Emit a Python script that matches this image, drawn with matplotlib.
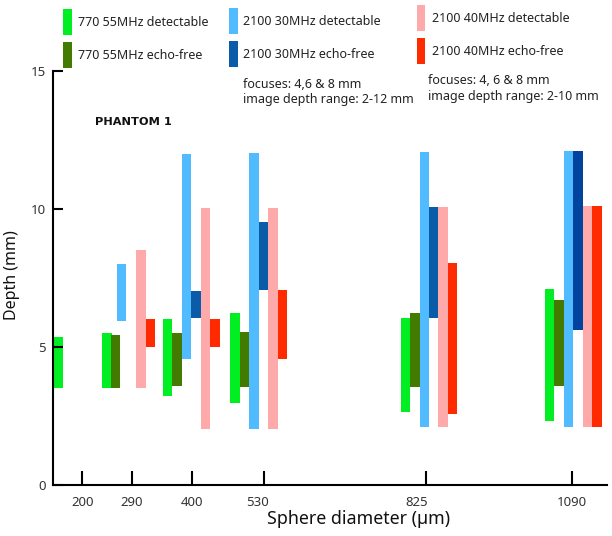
import matplotlib
matplotlib.use("Agg")
import matplotlib.pyplot as plt
from matplotlib.patches import Rectangle
from matplotlib.transforms import ScaledTranslation

plt.rcParams['font.family'] = ['Noto Sans', 'DejaVu Sans']

# ---------------- data ----------------
diameters = [200, 290, 400, 530, 825, 1090]
tick_labels = ['200', '290', '400', '530', '825', '1090']

series_names = ['770 55MHz detectable', '770 55MHz echo-free',
                '2100 30MHz detectable', '2100 30MHz echo-free',
                '2100 40MHz detectable', '2100 40MHz echo-free']

# depth ranges (mm) per diameter; None = no bar
g770_det_low = [3.48, 3.48, 3.20, 2.94, 2.64, 2.30]
g770_det_high = [5.33, 5.50, 5.99, 6.20, 6.04, 7.08]
g770_echo_low = [None, 3.48, 3.58, 3.52, 3.54, 3.57]
g770_echo_high = [None, 5.42, 5.50, 5.51, 6.23, 6.68]
b30_det_low = [None, 5.94, 4.53, 2.00, 2.07, 2.07]
b30_det_high = [None, 7.98, 11.99, 12.00, 12.03, 12.07]
b30_echo_low = [None, None, 6.02, 7.04, 6.05, 5.59]
b30_echo_high = [None, None, 7.02, 9.52, 10.06, 12.07]
r40_det_low = [None, 3.48, 2.01, 2.00, 2.07, 2.07]
r40_det_high = [None, 8.49, 10.02, 10.02, 10.06, 10.10]
r40_echo_low = [None, 5.00, 5.00, 4.53, 2.55, 2.10]
r40_echo_high = [None, 5.99, 5.99, 7.04, 8.04, 10.10]

lows = [g770_det_low, g770_echo_low, b30_det_low, b30_echo_low, r40_det_low, r40_echo_low]
highs = [g770_det_high, g770_echo_high, b30_det_high, b30_echo_high, r40_det_high, r40_echo_high]

# ---------------- style / layout ----------------
colors = ['#00EE22', '#437A00', '#50BCFF', '#0A5CA8', '#FFAAAA', '#FF2A00']
color_override = {(3, 5): '#0044A0'}
group_center = [199.2, 287.7, 398.1, 520.7, 830.4, 1092.6]
slot_spacing = 17.2
bar_width = 17.4
default_slots = [0, 1, 2, 3, 4, 5]
group_slots = {1: [0, 0.92, 1.54, 3, 3.61, 4.58]}
tick_label_nudge_px = [0, 0, 0, -6, -9, 0]

W, H = 612, 536
fig = plt.figure(figsize=(W / 100, H / 100), dpi=100)


def fx(px):
    return px / W


def fy(py):
    return 1 - py / H


ax = fig.add_axes([fx(53.3), fy(484.5), fx(607) - fx(53.3), fy(70.5) - fy(484.5)])

for s in range(len(series_names)):
    for g in range(len(diameters)):
        lo, hi = lows[s][g], highs[s][g]
        if lo is None or hi is None:
            continue
        slots = group_slots.get(g, default_slots)
        x = group_center[g] + (slots[s] - 2.5) * slot_spacing
        c = color_override.get((s, g), colors[s])
        ax.bar(x, hi - lo, bottom=lo, width=bar_width, color=c, linewidth=0)

ax.set_xlim(147.1, 1154)
ax.set_ylim(0, 15)
for side in ['top', 'right']:
    ax.spines[side].set_visible(False)
for side in ['left', 'bottom']:
    ax.spines[side].set_linewidth(1.5)
    ax.spines[side].set_color('black')

ax.set_yticks([0, 5, 10, 15])
ax.set_yticklabels(['0', '5', '10', '15'])
ax.set_xticks(diameters)
ax.set_xticklabels(tick_labels)
ax.tick_params(axis='y', direction='in', length=7, width=1.5, pad=5.5,
               labelsize=9.5, labelcolor='#333333')
ax.tick_params(axis='x', direction='in', length=10, width=1.5, pad=8,
               labelsize=9.5, labelcolor='#333333')
for lab, dx in zip(ax.get_xticklabels(), tick_label_nudge_px):
    lab.set_transform(lab.get_transform() + ScaledTranslation(dx / 100, 0, fig.dpi_scale_trans))

fig.text(fx(358.5), fy(519), 'Sphere diameter (\u00b5m)', ha='center', va='center',
         fontsize=12.8, color='#111111')
fig.text(fx(12.5), fy(275), 'Depth (mm)', ha='center', va='center', rotation=90,
         fontsize=11.5, color='#111111')

# legend (drawn manually to mimic the layout)
leg_patch_x = [63.3, 229.0, 416.5]
leg_text_x = [78.3, 243.3, 431.7]
leg_row_top = [[9.3, 41.7], [8.3, 40.7], [5.0, 38.0]]
leg_patch_h = 26
leg_patch_w = 9
for s, name in enumerate(series_names):
    col, row = s // 2, s % 2
    top = leg_row_top[col][row]
    fig.add_artist(Rectangle((fx(leg_patch_x[col]), fy(top + leg_patch_h)),
                             leg_patch_w / W, leg_patch_h / H,
                             transform=fig.transFigure, color=colors[s], linewidth=0))
    fig.text(fx(leg_text_x[col]), fy(top + 13.5), name, ha='left', va='center',
             fontsize=9, color='#222222')

fig.text(fx(95), fy(121.7), 'PHANTOM 1', ha='left', va='center', fontsize=8.2,
         fontweight='bold', family=['DejaVu Sans'], color='#111111')
fig.text(fx(242.7), fy(85), 'focuses: 4,6 & 8 mm', ha='left', va='center',
         fontsize=9, color='#222222')
fig.text(fx(242.7), fy(100), 'image depth range: 2-12 mm', ha='left', va='center',
         fontsize=9, color='#222222')
fig.text(fx(427.5), fy(81), 'focuses: 4, 6 & 8 mm', ha='left', va='center',
         fontsize=9, color='#222222')
fig.text(fx(427.5), fy(96.7), 'image depth range: 2-10 mm', ha='left', va='center',
         fontsize=9, color='#222222')

fig.savefig('out.png', dpi=100)
